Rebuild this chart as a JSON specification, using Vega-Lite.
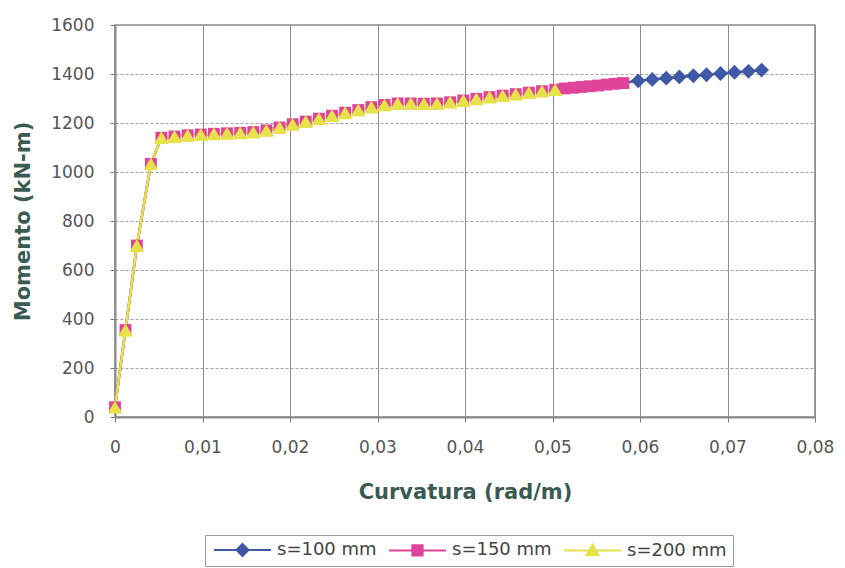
{
  "$schema": "https://vega.github.io/schema/vega-lite/v6.json",
  "autosize": "none",
  "width": 700,
  "height": 392,
  "padding": {"left": 115, "top": 25, "right": 30, "bottom": 151},
  "background": "white",
  "config": {
    "view": {"stroke": "#8a8a8a", "strokeWidth": 1.5},
    "axis": {
      "labelFont": "DejaVu Sans", "labelFontSize": 17, "labelColor": "#555555",
      "titleFont": "DejaVu Sans", "titleFontSize": 21, "titleFontWeight": "bold", "titleColor": "#3a5a52",
      "gridWidth": 1,
      "domainColor": "#8a8a8a", "domainWidth": 2, "tickColor": "#777777", "tickSize": 5
    },
    "axisX": {"gridColor": "#8c8c8c", "gridDash": []},
    "axisY": {"gridColor": "#a0a0a0", "gridDash": [3, 2]}
  },
  "data": {"values": [
    {"s": "s=100 mm", "k": 0, "M": 40}, {"s": "s=100 mm", "k": 0.0012, "M": 355}, {"s": "s=100 mm", "k": 0.0025, "M": 700}, {"s": "s=100 mm", "k": 0.0041, "M": 1033},
    {"s": "s=100 mm", "k": 0.0053, "M": 1140}, {"s": "s=100 mm", "k": 0.0068, "M": 1145}, {"s": "s=100 mm", "k": 0.0083, "M": 1150}, {"s": "s=100 mm", "k": 0.0098, "M": 1153},
    {"s": "s=100 mm", "k": 0.0113, "M": 1156}, {"s": "s=100 mm", "k": 0.0128, "M": 1158}, {"s": "s=100 mm", "k": 0.0143, "M": 1160}, {"s": "s=100 mm", "k": 0.0158, "M": 1163},
    {"s": "s=100 mm", "k": 0.0173, "M": 1170}, {"s": "s=100 mm", "k": 0.0188, "M": 1182}, {"s": "s=100 mm", "k": 0.0203, "M": 1195}, {"s": "s=100 mm", "k": 0.0218, "M": 1206},
    {"s": "s=100 mm", "k": 0.0233, "M": 1218}, {"s": "s=100 mm", "k": 0.0248, "M": 1230}, {"s": "s=100 mm", "k": 0.0263, "M": 1242}, {"s": "s=100 mm", "k": 0.0278, "M": 1253},
    {"s": "s=100 mm", "k": 0.0293, "M": 1265}, {"s": "s=100 mm", "k": 0.0308, "M": 1274}, {"s": "s=100 mm", "k": 0.0323, "M": 1280}, {"s": "s=100 mm", "k": 0.0338, "M": 1280},
    {"s": "s=100 mm", "k": 0.0353, "M": 1279}, {"s": "s=100 mm", "k": 0.0368, "M": 1280}, {"s": "s=100 mm", "k": 0.0383, "M": 1285}, {"s": "s=100 mm", "k": 0.0398, "M": 1292},
    {"s": "s=100 mm", "k": 0.0413, "M": 1299}, {"s": "s=100 mm", "k": 0.0428, "M": 1306}, {"s": "s=100 mm", "k": 0.0443, "M": 1312}, {"s": "s=100 mm", "k": 0.0458, "M": 1318},
    {"s": "s=100 mm", "k": 0.0473, "M": 1324}, {"s": "s=100 mm", "k": 0.0488, "M": 1330}, {"s": "s=100 mm", "k": 0.0503, "M": 1336},
    {"s": "s=100 mm", "k": 0.0514, "M": 1341}, {"s": "s=100 mm", "k": 0.0524, "M": 1344}, {"s": "s=100 mm", "k": 0.0533, "M": 1347}, {"s": "s=100 mm", "k": 0.0543, "M": 1350},
    {"s": "s=100 mm", "k": 0.0552, "M": 1353}, {"s": "s=100 mm", "k": 0.0562, "M": 1357}, {"s": "s=100 mm", "k": 0.0571, "M": 1360}, {"s": "s=100 mm", "k": 0.0581, "M": 1363},
    {"s": "s=100 mm", "k": 0.0598, "M": 1372}, {"s": "s=100 mm", "k": 0.0614, "M": 1378}, {"s": "s=100 mm", "k": 0.063, "M": 1383}, {"s": "s=100 mm", "k": 0.0645, "M": 1388},
    {"s": "s=100 mm", "k": 0.0661, "M": 1393}, {"s": "s=100 mm", "k": 0.0676, "M": 1397}, {"s": "s=100 mm", "k": 0.0692, "M": 1402}, {"s": "s=100 mm", "k": 0.0708, "M": 1407},
    {"s": "s=100 mm", "k": 0.0724, "M": 1411}, {"s": "s=100 mm", "k": 0.0739, "M": 1416},

    {"s": "s=150 mm", "k": 0, "M": 40}, {"s": "s=150 mm", "k": 0.0012, "M": 355}, {"s": "s=150 mm", "k": 0.0025, "M": 700}, {"s": "s=150 mm", "k": 0.0041, "M": 1033},
    {"s": "s=150 mm", "k": 0.0053, "M": 1140}, {"s": "s=150 mm", "k": 0.0068, "M": 1145}, {"s": "s=150 mm", "k": 0.0083, "M": 1150}, {"s": "s=150 mm", "k": 0.0098, "M": 1153},
    {"s": "s=150 mm", "k": 0.0113, "M": 1156}, {"s": "s=150 mm", "k": 0.0128, "M": 1158}, {"s": "s=150 mm", "k": 0.0143, "M": 1160}, {"s": "s=150 mm", "k": 0.0158, "M": 1163},
    {"s": "s=150 mm", "k": 0.0173, "M": 1170}, {"s": "s=150 mm", "k": 0.0188, "M": 1182}, {"s": "s=150 mm", "k": 0.0203, "M": 1195}, {"s": "s=150 mm", "k": 0.0218, "M": 1206},
    {"s": "s=150 mm", "k": 0.0233, "M": 1218}, {"s": "s=150 mm", "k": 0.0248, "M": 1230}, {"s": "s=150 mm", "k": 0.0263, "M": 1242}, {"s": "s=150 mm", "k": 0.0278, "M": 1253},
    {"s": "s=150 mm", "k": 0.0293, "M": 1265}, {"s": "s=150 mm", "k": 0.0308, "M": 1274}, {"s": "s=150 mm", "k": 0.0323, "M": 1280}, {"s": "s=150 mm", "k": 0.0338, "M": 1280},
    {"s": "s=150 mm", "k": 0.0353, "M": 1279}, {"s": "s=150 mm", "k": 0.0368, "M": 1280}, {"s": "s=150 mm", "k": 0.0383, "M": 1285}, {"s": "s=150 mm", "k": 0.0398, "M": 1292},
    {"s": "s=150 mm", "k": 0.0413, "M": 1299}, {"s": "s=150 mm", "k": 0.0428, "M": 1306}, {"s": "s=150 mm", "k": 0.0443, "M": 1312}, {"s": "s=150 mm", "k": 0.0458, "M": 1318},
    {"s": "s=150 mm", "k": 0.0473, "M": 1324}, {"s": "s=150 mm", "k": 0.0488, "M": 1330}, {"s": "s=150 mm", "k": 0.0503, "M": 1336},
    {"s": "s=150 mm", "k": 0.0514, "M": 1341}, {"s": "s=150 mm", "k": 0.0524, "M": 1344}, {"s": "s=150 mm", "k": 0.0533, "M": 1347}, {"s": "s=150 mm", "k": 0.0543, "M": 1350},
    {"s": "s=150 mm", "k": 0.0552, "M": 1353}, {"s": "s=150 mm", "k": 0.0562, "M": 1357}, {"s": "s=150 mm", "k": 0.0571, "M": 1360}, {"s": "s=150 mm", "k": 0.0581, "M": 1363},

    {"s": "s=200 mm", "k": 0, "M": 40}, {"s": "s=200 mm", "k": 0.0012, "M": 355}, {"s": "s=200 mm", "k": 0.0025, "M": 700}, {"s": "s=200 mm", "k": 0.0041, "M": 1033},
    {"s": "s=200 mm", "k": 0.0053, "M": 1140}, {"s": "s=200 mm", "k": 0.0068, "M": 1145}, {"s": "s=200 mm", "k": 0.0083, "M": 1150}, {"s": "s=200 mm", "k": 0.0098, "M": 1153},
    {"s": "s=200 mm", "k": 0.0113, "M": 1156}, {"s": "s=200 mm", "k": 0.0128, "M": 1158}, {"s": "s=200 mm", "k": 0.0143, "M": 1160}, {"s": "s=200 mm", "k": 0.0158, "M": 1163},
    {"s": "s=200 mm", "k": 0.0173, "M": 1170}, {"s": "s=200 mm", "k": 0.0188, "M": 1182}, {"s": "s=200 mm", "k": 0.0203, "M": 1195}, {"s": "s=200 mm", "k": 0.0218, "M": 1206},
    {"s": "s=200 mm", "k": 0.0233, "M": 1218}, {"s": "s=200 mm", "k": 0.0248, "M": 1230}, {"s": "s=200 mm", "k": 0.0263, "M": 1242}, {"s": "s=200 mm", "k": 0.0278, "M": 1253},
    {"s": "s=200 mm", "k": 0.0293, "M": 1265}, {"s": "s=200 mm", "k": 0.0308, "M": 1274}, {"s": "s=200 mm", "k": 0.0323, "M": 1280}, {"s": "s=200 mm", "k": 0.0338, "M": 1280},
    {"s": "s=200 mm", "k": 0.0353, "M": 1279}, {"s": "s=200 mm", "k": 0.0368, "M": 1280}, {"s": "s=200 mm", "k": 0.0383, "M": 1285}, {"s": "s=200 mm", "k": 0.0398, "M": 1292},
    {"s": "s=200 mm", "k": 0.0413, "M": 1299}, {"s": "s=200 mm", "k": 0.0428, "M": 1306}, {"s": "s=200 mm", "k": 0.0443, "M": 1312}, {"s": "s=200 mm", "k": 0.0458, "M": 1318},
    {"s": "s=200 mm", "k": 0.0473, "M": 1324}, {"s": "s=200 mm", "k": 0.0488, "M": 1330}, {"s": "s=200 mm", "k": 0.0503, "M": 1336}
  ]},
  "encoding": {
    "x": {"field": "k", "type": "quantitative", "title": "Curvatura (rad/m)",
      "scale": {"domain": [0, 0.08], "nice": false, "zero": false},
      "axis": {"values": [0, 0.01, 0.02, 0.03, 0.04, 0.05, 0.06, 0.07, 0.08], "labelExpr": "replace(format(datum.value, '.2~f'), '.', ',')", "labelPadding": 17, "titlePadding": 26, "labelFlush": false}},
    "y": {"field": "M", "type": "quantitative", "title": "Momento (kN-m)",
      "scale": {"domain": [0, 1600], "nice": false},
      "axis": {"values": [0, 200, 400, 600, 800, 1000, 1200, 1400, 1600], "format": "d", "labelPadding": 16, "titlePadding": 17, "labelFlush": false}},
    "color": {"field": "s", "type": "nominal",
      "scale": {"domain": ["s=100 mm", "s=150 mm", "s=200 mm"], "range": ["#4059a6", "#e0449a", "#e8e24a"]},
      "legend": {
        "title": null, "orient": "none", "legendX": 90, "legendY": 510, "direction": "horizontal",
        "strokeColor": "#9a9a9a", "padding": 6, "labelFont": "DejaVu Sans", "labelFontSize": 18, "labelColor": "#444444",
        "symbolSize": 144, "symbolOffset": 0, "labelOffset": 48, "columnPadding": 8, "symbolStrokeWidth": 2, "symbolOpacity": 1,
        "encoding": {"symbols": {
          "shape": {"value": {"expr": "datum.value == 's=100 mm' ? 'M-1,0L8.5,0M2.75,0L3.75,-1L4.75,0L3.75,1Z' : datum.value == 's=150 mm' ? 'M-1,0L8.5,0M2.9,-0.85L4.6,-0.85L4.6,0.85L2.9,0.85Z' : 'M-1,0L8.5,0M3.75,-1L4.75,0.8L2.75,0.8Z'"}},
          "fill": {"value": {"expr": "scale('color', datum.value)"}},
          "stroke": {"value": {"expr": "scale('color', datum.value)"}}
        }}
      }
    }
  },
  "layer": [
    {"mark": {"type": "line", "strokeWidth": 2.5}},
    {
      "transform": [{"filter": "datum.s == 's=100 mm' && datum.k > 0.059"}],
      "mark": {"type": "point", "filled": true, "opacity": 1, "strokeWidth": 1, "shape": "diamond", "size": 220}
    },
    {
      "transform": [{"filter": "datum.s == 's=150 mm'"}],
      "mark": {"type": "point", "filled": true, "opacity": 1, "strokeWidth": 1, "shape": "square", "size": 140}
    },
    {
      "transform": [{"filter": "datum.s == 's=200 mm'"}],
      "mark": {"type": "point", "filled": true, "opacity": 1, "strokeWidth": 1, "shape": "triangle-up", "size": 220}
    }
  ]
}
